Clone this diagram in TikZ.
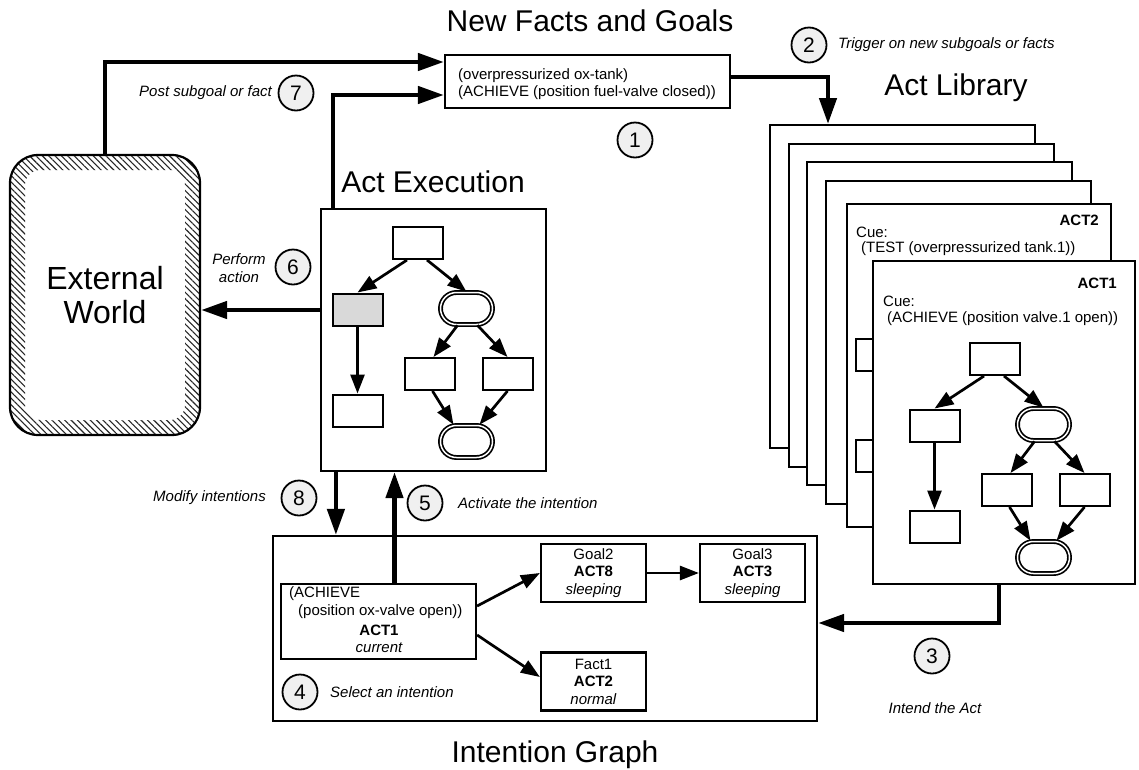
\documentclass[tikz,border=0pt]{standalone}
\usepackage{fontspec}
\setmainfont{Liberation Sans}
\usetikzlibrary{arrows.meta,patterns.meta}

\tikzset{
  box/.style={draw,line width=2.2pt,inner sep=0pt,fill=white},
  page/.style={draw,line width=2.4pt,inner sep=0pt,fill=white,anchor=north west,
               minimum width=265pt,minimum height=323pt},
  gbox/.style={draw,line width=2pt,inner sep=0pt,minimum width=50pt,minimum height=32pt},
  goval/.style={draw,line width=1.7pt,double=white,double distance=1.5pt,inner sep=0pt,
                minimum width=52pt,minimum height=32pt,rounded corners=16pt,fill=white},
  garrow/.style={line width=2.7pt,-{Triangle[length=19pt,width=14pt]}},
  bigarrow/.style={line width=4.5pt,-{Triangle[length=26pt,width=17pt]}},
  body/.style={inner sep=0pt,font=\fontsize{15}{17.5}\selectfont},
  lab/.style={inner sep=0pt,font=\fontsize{15}{17.5}\selectfont\itshape},
  title/.style={inner sep=0pt,font=\fontsize{30}{34}\selectfont},
  num/.style={circle,draw,line width=1.8pt,fill=gray!12,minimum size=35pt,inner sep=0pt,
              font=\fontsize{21}{21}\selectfont},
  pics/actgraph/.style={code={
    \node[gbox,fill=white] (-t)  at (26,17) {};
    \node[gbox,fill=#1]    (-l)  at (-34.5,83.5) {};
    \node[gbox,fill=white] (-ll) at (-34.5,184.5) {};
    \node[goval]           (-o1) at (74.5,82.5) {};
    \node[gbox,fill=white] (-ml) at (37.5,148) {};
    \node[gbox,fill=white] (-mr) at (115.5,148) {};
    \node[goval]           (-o2) at (74.5,215.5) {};
    \draw[garrow] ([xshift=-11pt]-t.south) -- (-l.north);
    \draw[garrow] ([xshift=9pt]-t.south) -- (-o1.north);
    \draw[garrow] ([xshift=-9pt]-o1.south) -- ([xshift=4pt]-ml.north);
    \draw[garrow] ([xshift=11pt]-o1.south) -- (-mr.north);
    \draw[garrow] ([xshift=3pt]-ml.south) -- ([xshift=-13pt]-o2.north);
    \draw[garrow] (-mr.south) -- ([xshift=13pt]-o2.north);
    \draw[garrow] (-l.south) -- (-ll.north);
  }}
}

\begin{document}
\begin{tikzpicture}[x=1pt,y=-1pt]
\useasboundingbox[fill=white] (0,0) rectangle (1139,769);

% ---------- External World ----------
\fill[pattern={Lines[angle=-45,distance=4.5pt,line width=1.1pt]},pattern color=black!85,
      even odd rule,rounded corners=28pt]
  (10,155) rectangle (200,435) [rounded corners=15pt] (25,170) rectangle (185,420);
\node[draw,line width=2.2pt,rounded corners=28pt,minimum width=190pt,minimum height=280pt,
      inner sep=0pt,align=center,font=\fontsize{32}{34}\selectfont] (ew) at (105,295) {External\\World};

% ---------- New facts and goals ----------
\node[title] (nftitle) at (590,21) {New Facts and Goals};
\node[box,minimum width=285pt,minimum height=53pt] (nf) at (587.5,81.5) {};
\node[body,anchor=west,align=left] (nftext) at (458,84)
  {(overpressurized ox-tank)\\(ACHIEVE (position fuel-valve closed))};

% ---------- Act library ----------
\node[title] (altitle) at (956,88) {Act Library};
\node[page] (p1) at (769,124) {};
\node[page] (p2) at (788,143) {};
\node[page] (p3) at (806,161) {};
\node[page] (p4) at (825,180) {};
\node[page,minimum width=264pt] (p5) at (846,203) {};
\node[body,font=\fontsize{15}{17.5}\selectfont\bfseries,anchor=east] (a2name) at (1099,220) {ACT2};
\node[body,anchor=west] (a2cue) at (856,232) {Cue:};
\node[body,anchor=west] (a2cond) at (861,249) {(TEST (overpressurized tank.1))};
\pic (a2g) at (915,271) {actgraph=white};
\node[page,minimum width=262pt] (p6) at (872,260) {};
\node[body,font=\fontsize{15}{17.5}\selectfont\bfseries,anchor=east] (a1name) at (1117,283) {ACT1};
\node[body,anchor=west] (a1cue) at (883,301) {Cue:};
\node[body,anchor=west] (a1cond) at (887,319) {(ACHIEVE (position valve.1 open))};
\pic (a1g) at (969,342) {actgraph=white};

% ---------- Act execution ----------
\node[title] (extitle) at (433,182) {Act Execution};
\node[box,minimum width=225pt,minimum height=262pt] (ex) at (433.5,340) {};
\pic (xg) at (392,226) {actgraph=gray!30};

% ---------- Intention graph ----------
\node[box,minimum width=544pt,minimum height=185pt] (ig) at (545,628.5) {};
\node[title] (igtitle) at (555,755) {Intention Graph};
\node[box,minimum width=195pt,minimum height=75pt] (cur) at (378.5,621.5) {};
\node[body,anchor=west] (cur1) at (289,594) {(ACHIEVE};
\node[body,anchor=west] (cur2) at (298,612) {(position ox-valve open))};
\node[body,font=\fontsize{15}{17.5}\selectfont\bfseries] (cur3) at (379,630) {ACT1};
\node[body,font=\fontsize{15}{17.5}\selectfont\itshape] (cur4) at (379,648) {current};
\node[box,body,minimum width=105pt,minimum height=58pt,align=center] (g2) at (593.5,573)
  {Goal2\\\textbf{ACT8}\\\textit{sleeping}};
\node[box,body,minimum width=105pt,minimum height=58pt,align=center] (g3) at (752.5,573)
  {Goal3\\\textbf{ACT3}\\\textit{sleeping}};
\node[box,body,minimum width=105pt,minimum height=58pt,align=center] (f1) at (593.5,681.5)
  {Fact1\\\textbf{ACT2}\\\textit{normal}};
\draw[garrow] ([yshift=15.5pt]cur.east) -- (g2.west);
\draw[garrow] ([yshift=-13.5pt]cur.east) -- ([yshift=4.5pt]f1.west);
\draw[garrow] (g2.east) -- (g3.west);

% ---------- Flow between the parts ----------
\draw[bigarrow] (ew.north) |- ([yshift=19.5pt]nf.west);
\draw[bigarrow] ([xshift=13pt]ex.north west) |- ([yshift=-13.5pt]nf.west);
\draw[bigarrow] ([yshift=4.5pt]nf.east) -| ([xshift=59pt]p1.north west);
\draw[bigarrow] ([xshift=-5pt]p6.south) |- ([yshift=5.5pt]ig.east);
\draw[bigarrow] ([yshift=30pt]ex.west) -- ([yshift=-15pt]ew.east);
\draw[bigarrow] ([xshift=16pt]cur.north) -- ([xshift=16pt]cur.north |- ex.south);
\draw[bigarrow] ([xshift=16pt]ex.south west) -- ([xshift=16pt]ex.south west |- ig.north);

% ---------- Step numbers and their labels ----------
\node[num] (n1) at (635,140) {1};
\node[num] (n2) at (809,45) {2};
\node[lab,anchor=west] (l2) at (838,45) {Trigger on new subgoals or facts};
\node[num] (n3) at (932,656) {3};
\node[lab] (l3) at (935,708) {Intend the Act};
\node[num] (n4) at (300,692) {4};
\node[lab,anchor=west] (l4) at (330,692) {Select an intention};
\node[num] (n5) at (425,503) {5};
\node[lab,anchor=west] (l5) at (458,503) {Activate the intention};
\node[num] (n6) at (293,267) {6};
\node[lab,align=center] (l6) at (239,268) {Perform\\action};
\node[num] (n7) at (296,93) {7};
\node[lab,anchor=east] (l7) at (272,93) {Post subgoal or fact};
\node[num] (n8) at (299,498) {8};
\node[lab,anchor=east] (l8) at (266,498) {Modify intentions};
\end{tikzpicture}
\end{document}
